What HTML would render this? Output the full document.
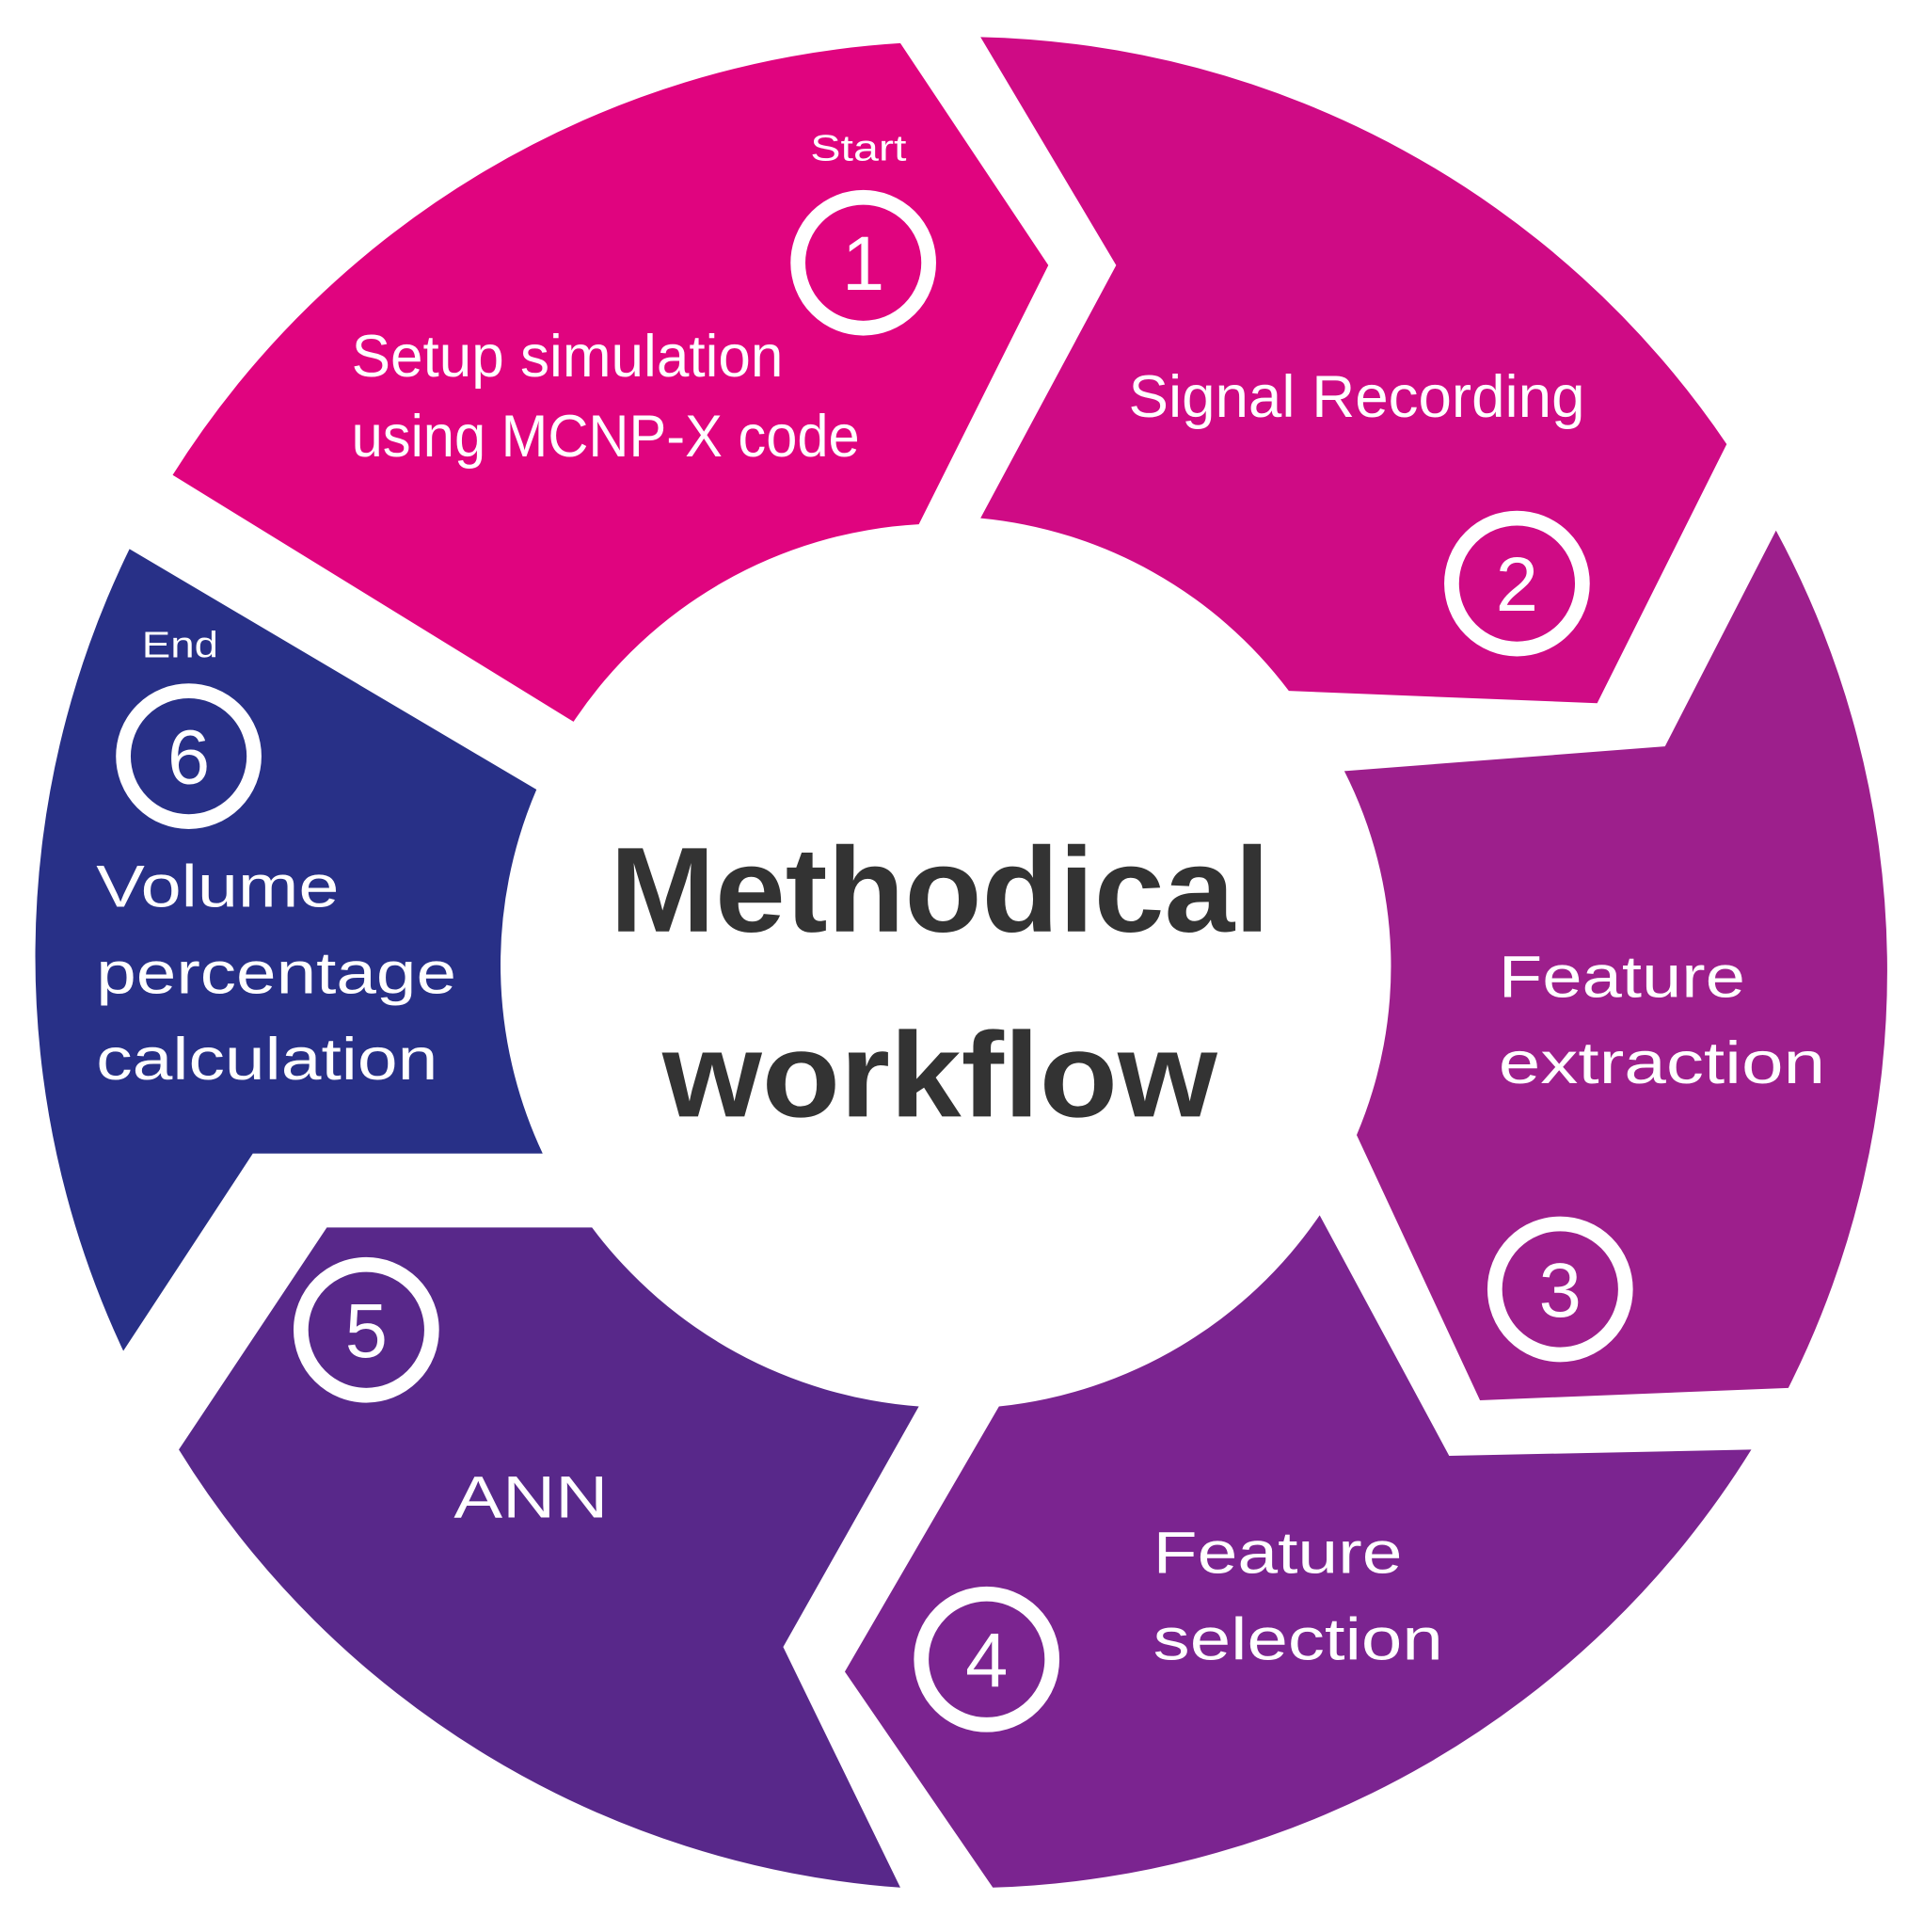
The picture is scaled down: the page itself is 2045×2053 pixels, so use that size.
<!DOCTYPE html>
<html><head><meta charset="utf-8"><style>
html,body{margin:0;padding:0;background:#fff;}
svg{display:block;}
text{font-family:"Liberation Sans",sans-serif;}
</style></head><body>
<svg width="2045" height="2053" viewBox="0 0 1560 1566" preserveAspectRatio="none" xmlns="http://www.w3.org/2000/svg">
<rect width="1560" height="1566" fill="#fff"/>
<path d="M140,385 A752,752 0 0 1 730,35 L850,215 L745,425 A360,360 0 0 0 465,585 Z" fill="#e0047f"/>
<path d="M795,30 A752,752 0 0 1 1400,360 L1295,570 L1045,560 A355,355 0 0 0 795,420 L905,215 Z" fill="#cf0b85"/>
<path d="M1440,430 A752,752 0 0 1 1450,1125 L1200,1135 L1100,920 A350,350 0 0 0 1090,625 L1350,605 Z" fill="#9d1f8c"/>
<path d="M1420,1175 A752,752 0 0 1 805,1530 L685,1355 L810,1140 A360,360 0 0 0 1070,985 L1175,1180 Z" fill="#7b2490"/>
<path d="M730,1530 A752,752 0 0 1 145,1175 L265,995 L480,995 A365,365 0 0 0 745,1140 L635,1335 Z" fill="#58288a"/>
<path d="M100,1095 A752,752 0 0 1 105,445 L435,640 A360,360 0 0 0 440,935 L205,935 Z" fill="#283087"/>

<text x="762" y="755" text-anchor="middle" font-size="98" font-weight="bold" fill="#333" textLength="535" lengthAdjust="spacingAndGlyphs">Methodical</text>
<text x="762" y="905" text-anchor="middle" font-size="98" font-weight="bold" fill="#333" textLength="450" lengthAdjust="spacingAndGlyphs">workflow</text>

<g fill="#fff" font-size="48">
<text x="285" y="305" textLength="350" lengthAdjust="spacingAndGlyphs">Setup simulation</text>
<text x="285" y="370" textLength="412" lengthAdjust="spacingAndGlyphs">using MCNP-X code</text>
<text x="915" y="338" textLength="370" lengthAdjust="spacingAndGlyphs">Signal Recording</text>
<text x="1215" y="808" textLength="200" lengthAdjust="spacingAndGlyphs">Feature</text>
<text x="1215" y="878" textLength="265" lengthAdjust="spacingAndGlyphs">extraction</text>
<text x="935" y="1275" textLength="202" lengthAdjust="spacingAndGlyphs">Feature</text>
<text x="935" y="1345" textLength="235" lengthAdjust="spacingAndGlyphs">selection</text>
<text x="368" y="1230" textLength="125" lengthAdjust="spacingAndGlyphs">ANN</text>
<text x="78" y="735" textLength="197" lengthAdjust="spacingAndGlyphs">Volume</text>
<text x="78" y="805" textLength="292" lengthAdjust="spacingAndGlyphs">percentage</text>
<text x="78" y="875" textLength="277" lengthAdjust="spacingAndGlyphs">calculation</text>
<text x="657" y="130" font-size="30" textLength="78" lengthAdjust="spacingAndGlyphs">Start</text>
<text x="115" y="533" font-size="30" textLength="62" lengthAdjust="spacingAndGlyphs">End</text>
</g>
<g fill="none" stroke="#fff" stroke-width="12">
<circle cx="700" cy="213" r="53"/>
<circle cx="1230" cy="473" r="53"/>
<circle cx="1265" cy="1045" r="53"/>
<circle cx="800" cy="1345" r="53"/>
<circle cx="297" cy="1078" r="53"/>
<circle cx="153" cy="613" r="53"/>
</g>
<g fill="#fff" font-size="62" text-anchor="middle">
<text x="700" y="235">1</text>
<text x="1230" y="495">2</text>
<text x="1265" y="1067">3</text>
<text x="800" y="1367">4</text>
<text x="297" y="1100">5</text>
<text x="153" y="635">6</text>
</g>
</svg>
</body></html>
